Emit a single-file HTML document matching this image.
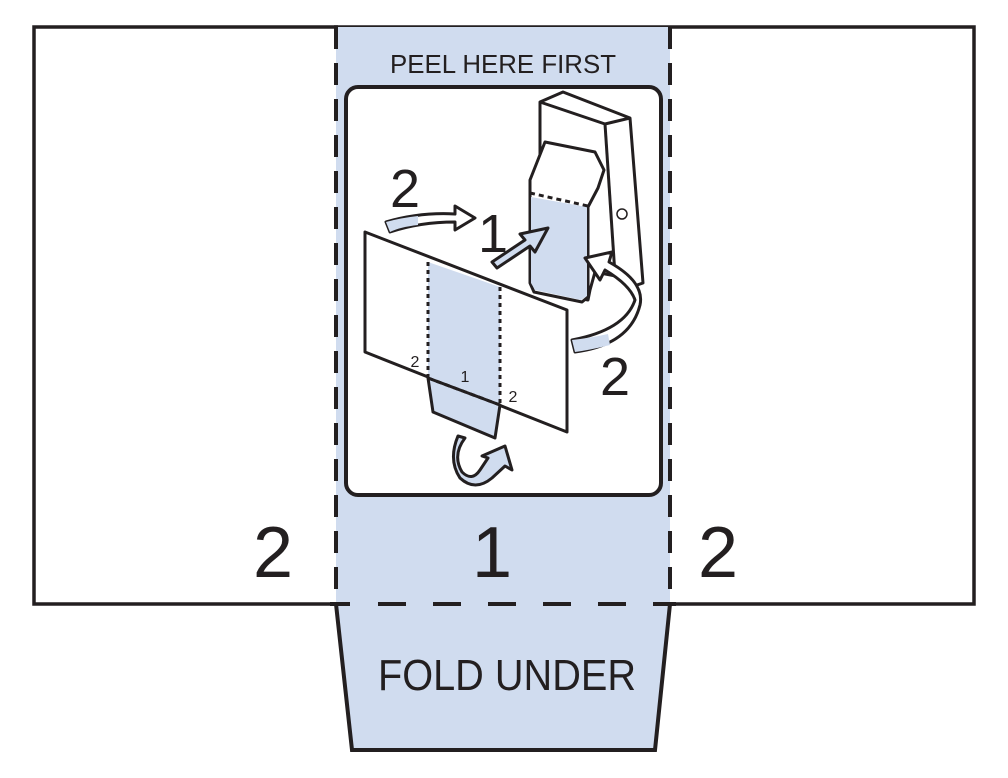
<!DOCTYPE html>
<html><head><style>body{margin:0;background:#fff}svg{display:block}</style></head><body>
<svg width="1008" height="778" viewBox="0 0 1008 778" xmlns="http://www.w3.org/2000/svg" font-family="Liberation Sans, sans-serif">
<rect x="34" y="27" width="940" height="577" fill="#fff" stroke="#231f20" stroke-width="3.5"/>
<rect x="336" y="27" width="334" height="577" fill="#d0dcef"/>
<polygon points="336,604 670,604 655,750 352,750" fill="#d0dcef"/>
<path d="M336,604 L352,750 L655,750 L670,604" fill="none" stroke="#231f20" stroke-width="4"/>
<line x1="334" y1="27" x2="338" y2="27" stroke="#231f20" stroke-width="3.5"/>
<g stroke="#231f20" stroke-width="4" fill="none">
<line x1="336" y1="27" x2="336" y2="604" stroke-dasharray="22,14"/>
<line x1="670" y1="27" x2="670" y2="604" stroke-dasharray="22,14"/>
<path d="M330,604 H350 M378,604 H406 M433,604 H461 M488,604 H516 M543,604 H571 M598,604 H626 M653,604 H676"/>
</g>
<text x="503" y="73" font-size="26" text-anchor="middle" fill="#231f20" textLength="226" lengthAdjust="spacingAndGlyphs">PEEL HERE FIRST</text>
<rect x="346" y="87" width="315" height="408" rx="12" fill="#fff" stroke="#231f20" stroke-width="4"/>
<text x="273" y="577" font-size="72" text-anchor="middle" fill="#231f20">2</text>
<text x="492" y="577" font-size="72" text-anchor="middle" fill="#231f20">1</text>
<text x="718" y="577" font-size="72" text-anchor="middle" fill="#231f20">2</text>
<text x="507" y="690" font-size="44" text-anchor="middle" fill="#231f20" textLength="258" lengthAdjust="spacingAndGlyphs">FOLD UNDER</text>
<g stroke="#231f20" stroke-width="3" stroke-linejoin="round" fill="#fff">
<!-- device body -->
<path d="M540,102 L563,92 L630,118 L643,283 L628,288 L626,278 L595,272 L590,290 L588,300 L540,290 Z"/>
<path d="M540,102 L605,124 L630,118" fill="none"/>
<path d="M605,124 L615,275" fill="none"/>
<!-- clip -->
<path d="M530,180 L545,142 L595,152 L604,170 L598,188 L588,207 L588,297 L582,302 L534,292 L530,283 Z"/>
<path d="M531,197 L531,283 L535,290 L581,300 L587,296 L587,207 Z" fill="#d0dcef" stroke="none"/>
<line x1="530" y1="193" x2="588" y2="206" stroke-dasharray="5,4"/>
<circle cx="622" cy="214" r="5" fill="#fff" stroke-width="1.5"/>
<!-- sheet -->
<polygon points="365,232 567,310 567,432 365,352"/>
<polygon points="428,262 500,287 500,405 428,378" fill="#d0dcef" stroke="none"/>
<polygon points="428,378 500,405 495,438 433,412" fill="#d0dcef"/>
<line x1="428" y1="262" x2="428" y2="378" stroke-dasharray="4,4"/>
<line x1="500" y1="287" x2="500" y2="405" stroke-dasharray="4,4"/>
<line x1="428" y1="378" x2="500" y2="405" stroke-dasharray="5,4"/>
<!-- arrows -->
<path d="M386,222 Q420,212 455,214 L455,206 L475,218 L455,230 L455,222 Q420,222 390,232 Z" fill="#fff"/>
<path d="M386,222 Q400,218 418,216 L418,225 Q400,227 390,232 Z" fill="#d0dcef" stroke="none"/>
<path d="M492,262 L525,240 L520,234 L548,228 L535,252 L530,246 L497,268 Z" fill="#d0dcef"/>
<path d="M572,340 Q625,330 635,300 Q630,285 605,270 L600,280 L585,258 L612,252 L609,262 Q645,282 640,305 Q630,345 575,352 Z" fill="#fff"/>
<path d="M572,340 Q590,338 608,334 L610,345 Q590,350 575,352 Z" fill="#d0dcef" stroke="none"/>
<path d="M465,438 Q452,455 462,472 Q472,482 480,470 L488,458 L482,456 L505,446 L512,470 L505,466 L492,478 Q475,492 460,478 Q448,460 458,436 Z" fill="#d0dcef"/>
</g>
<g fill="#231f20">
<text x="405" y="207" font-size="54" text-anchor="middle">2</text>
<text x="493" y="252" font-size="54" text-anchor="middle">1</text>
<text x="615" y="395" font-size="54" text-anchor="middle">2</text>
<text x="415" y="367" font-size="16" text-anchor="middle">2</text>
<text x="465" y="382" font-size="16" text-anchor="middle">1</text>
<text x="513" y="402" font-size="16" text-anchor="middle">2</text>
</g>
</svg>
</body></html>
